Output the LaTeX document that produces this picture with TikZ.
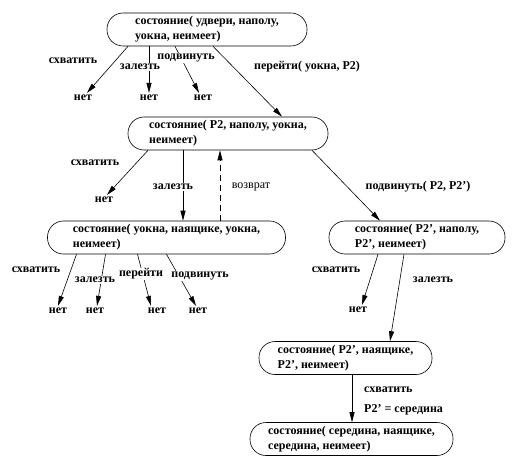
\documentclass[tikz,border=0pt]{standalone}
\usepackage{fontspec}
\setmainfont{Liberation Serif}
\usetikzlibrary{arrows.meta}
\begin{document}
\begin{tikzpicture}[x=1pt,y=-1pt,
  st/.style={draw, line width=0.6pt, rounded corners=16pt, minimum height=33pt, align=left,
    font=\bfseries\fontsize{12}{15}\selectfont, inner sep=0pt},
  lbl/.style={font=\bfseries\fontsize{12}{14}\selectfont, fill=white, inner sep=1pt},
  plainlbl/.style={font=\fontsize{12}{14}\selectfont, fill=white, inner sep=1pt},
  no/.style={font=\bfseries\fontsize{12}{14}\selectfont, inner sep=2pt},
  arr/.style={-{Triangle[length=10pt,width=5pt]}, line width=0.6pt},
]
\useasboundingbox (0,0) rectangle (524,473);

% states
\node[st, minimum width=200pt] (s1) at (207,29.5) {состояние( удвери, наполу,\\уокна, неимеет)};
\node[st, minimum width=200pt] (s2) at (228,133.5) {состояние( P2, наполу, уокна,\\неимеет)};
\node[st, minimum width=238pt] (s3) at (166.5,237.5) {состояние( уокна, наящике, уокна,\\неимеет)};
\node[st, minimum width=176pt] (s4) at (417,237.5) {состояние( P2’, наполу,\\P2’, неимеет)};
\node[st, minimum width=173pt] (s5) at (345.5,358) {состояние( P2’, наящике,\\P2’, неимеет)};
\node[st, minimum width=203pt] (s6) at (351.5,439) {состояние( середина, наящике,\\середина, неимеет)};

% "нет" leaves
\node[no] (n1) at (83,98) {нет};
\node[no] (n2) at (149,98) {нет};
\node[no] (n3) at (203,98) {нет};
\node[no] (n4) at (104,200) {нет};
\node[no] (n5) at (58,311) {нет};
\node[no] (n6) at (95,311) {нет};
\node[no] (n7) at (157,311) {нет};
\node[no] (n8) at (198,311) {нет};
\node[no] (n9) at (358,310) {нет};

% edges from s1
\draw[arr] ([xshift=-79pt]s1.south) -- ([xshift=4pt]n1.north);
\draw[arr] ([xshift=-58pt]s1.south) -- (n2.north);
\draw[arr] ([xshift=-32pt]s1.south) -- ([xshift=-4pt]n3.north);
\draw[arr] ([xshift=6pt]s1.south) -- ([xshift=54pt]s2.north);

% edges from s2
\draw[arr] ([xshift=-80pt]s2.south) -- ([xshift=3pt]n4.north);
\draw[arr] ([xshift=-45pt]s2.south) -- ([xshift=16.5pt]s3.north);
\draw[arr, dashed, dash pattern=on 6pt off 4pt] ([xshift=53.5pt]s3.north) -- ([xshift=-8pt]s2.south);
\draw[arr] ([xshift=84pt]s2.south) -- ([xshift=-37pt]s4.north);

% edges from s3
\draw[arr] ([xshift=-90pt]s3.south) -- ([xshift=0pt]n5.north);
\draw[arr] ([xshift=-61pt]s3.south) -- ([xshift=2pt]n6.north);
\draw[arr] ([xshift=-29pt]s3.south) -- ([xshift=-6pt]n7.north);
\draw[arr] ([xshift=0pt]s3.south) -- ([xshift=-2pt]n8.north);

% edges from s4
\draw[arr] ([xshift=-39pt]s4.south) -- ([xshift=4pt]n9.north);
\draw[arr] ([xshift=-13pt]s4.south) -- ([xshift=44.5pt]s5.north);

% edge s5 -> s6
\draw[arr] ([xshift=6.5pt]s5.south) -- ([xshift=0.5pt]s6.north);

% labels
\node[lbl] (l1) at (73,61) {схватить};
\node[lbl] (l2) at (140,67) {залезть};
\node[lbl] (l3) at (186,58) {подвинуть};
\node[lbl] (l4) at (307,67) {перейти( уокна, P2)};
\node[lbl] (l5) at (95,163) {схватить};
\node[lbl] (l6) at (173,187) {залезть};
\node[plainlbl] (l7) at (251,187) {возврат};
\node[lbl] (l8) at (418,187) {подвинуть( P2, P2’)};
\node[lbl] (l9) at (36,270) {схватить};
\node[lbl] (l10) at (95,280) {залезть};
\node[lbl] (l11) at (141,274) {перейти};
\node[lbl] (l12) at (200,276) {подвинуть};
\node[lbl] (l13) at (336,270) {схватить};
\node[lbl] (l14) at (433,280) {залезть};
\node[lbl, anchor=west] (l15) at (363,390) {схватить};
\node[lbl, anchor=west] (l16) at (363,410) {P2’ = середина};
\end{tikzpicture}
\end{document}
